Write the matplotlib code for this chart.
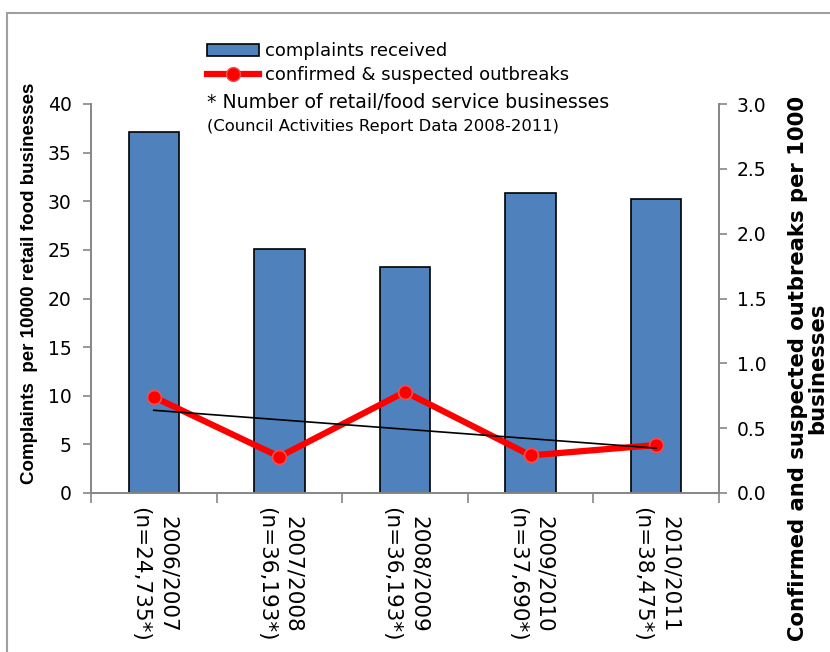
import matplotlib.pyplot as plt
import matplotlib.patches as mpatches
from matplotlib.lines import Line2D
import numpy as np

plt.rcParams['font.family'] = 'DejaVu Sans'

years = ["2006/2007", "2007/2008", "2008/2009", "2009/2010", "2010/2011"]
n_businesses = ["24,735*", "36,193*", "36,193*", "37,690*", "38,475*"]
complaints = [37.1, 25.1, 23.2, 30.8, 30.25]
outbreaks = [0.74, 0.28, 0.78, 0.29, 0.37]

labels = [f"{y}\n(n={n})" for y, n in zip(years, n_businesses)]
x = np.arange(len(years))

bar_color = '#4F81BD'
axis_gray = '#868686'

fig = plt.figure(figsize=(8.3, 6.52), dpi=100)
ax = fig.add_axes([91/830, 1 - 493/652, 628/830, 389/652])
ax2 = ax.twinx()

ax.bar(x, complaints, width=0.4, color=bar_color, edgecolor='black', linewidth=1.2, zorder=2)
ax.set_xlim(-0.5, 4.5)
ax.set_ylim(0, 40)
ax.set_yticks(range(0, 41, 5))

# outbreaks on the secondary axis plus a linear trend line
ax2.plot(x, outbreaks, color='#FF0000', linewidth=4.5, marker='o', markersize=10,
         markerfacecolor='#FF0000', markeredgecolor='#F05050', markeredgewidth=1.2, zorder=3)
coef = np.polyfit(x, outbreaks, 1)
ax2.plot(x, np.polyval(coef, x), color='black', linewidth=1.2, zorder=4)
ax2.set_ylim(0, 3.0)
ax2.set_yticks(np.arange(0, 3.01, 0.5))
ax2.set_yticklabels([f"{v:.1f}" for v in np.arange(0, 3.01, 0.5)])

# category labels, ticks at the boundaries between groups
ax.set_xticks(x)
ax.set_xticklabels(labels, rotation=-90, fontsize=15.5, va='top', ha='center',
                   multialignment='center', linespacing=1.45)
ax.set_xticks(np.arange(-0.5, 5, 1), minor=True)
ax.tick_params(axis='x', which='major', length=0, pad=10)
ax.tick_params(axis='x', which='minor', length=7, color=axis_gray, width=1.2)
ax.tick_params(axis='y', length=6, color=axis_gray, width=1.2, labelsize=13.5, pad=8)
ax2.tick_params(axis='y', length=6, color=axis_gray, width=1.2, labelsize=13.5, pad=7)

for a in (ax, ax2):
    a.spines['top'].set_visible(False)
    for side in ('left', 'right', 'bottom'):
        a.spines[side].set_color(axis_gray)
        a.spines[side].set_linewidth(1.2)

fig.text(30/830, 1 - 283/652, "Complaints  per 10000 retail food businesses",
         rotation=90, ha='center', va='center', fontsize=13.5, fontweight='bold',
         family='Liberation Sans')
fig.text(808/830, 1 - 368/652, "Confirmed and suspected outbreaks per 1000\nbusinesses",
         rotation=90, ha='center', va='center', fontsize=15.2, fontweight='bold',
         multialignment='center', linespacing=0.95)

handles = [
    mpatches.Patch(facecolor=bar_color, edgecolor='black', linewidth=1.2),
    Line2D([], [], color='#FF0000', linewidth=4.5, marker='o', markersize=10,
           markerfacecolor='#FF0000', markeredgecolor='#F05050'),
]
fig.legend(handles, ["complaints received", "confirmed & suspected outbreaks"],
           loc='upper left', bbox_to_anchor=(207/830, 1 - 42/652), frameon=False,
           fontsize=13, handlelength=2.9, handleheight=0.65, handletextpad=0.3,
           borderaxespad=0, borderpad=0, labelspacing=0.35)
fig.text(207/830, 1 - 102/652, "* Number of retail/food service businesses",
         ha='left', va='center', fontsize=13.6)
fig.text(207/830, 1 - 127/652, "(Council Activities Report Data 2008-2011)",
         ha='left', va='center', fontsize=11.8)

# outer frame
fig.add_artist(mpatches.Rectangle((7/830, -0.1), 1.2, 1 - 13/652 + 0.1,
                                  transform=fig.transFigure, fill=False,
                                  edgecolor='#A0A0A0', linewidth=1.5))

fig.savefig("out.png", dpi=100)
